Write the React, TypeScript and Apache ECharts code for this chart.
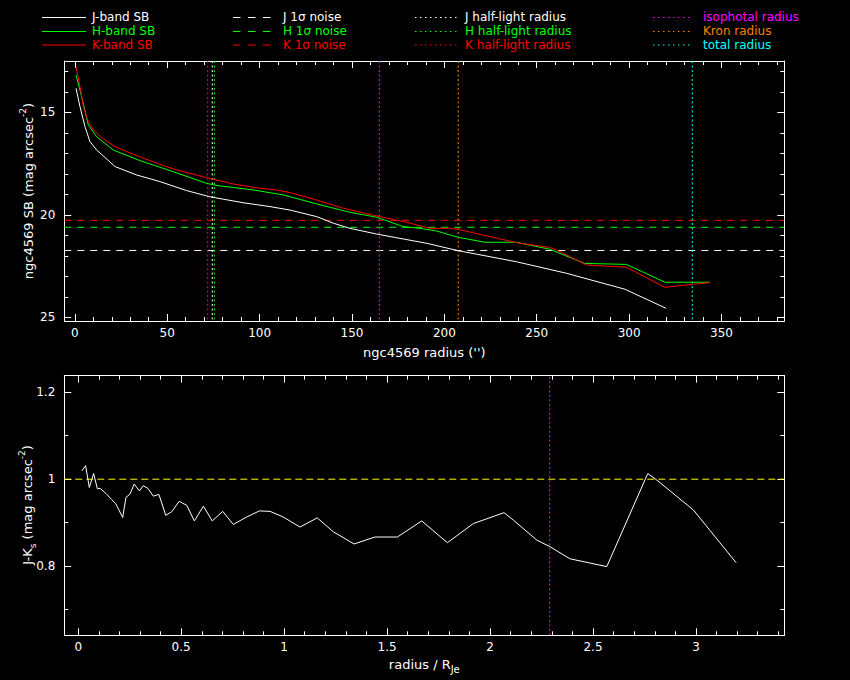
import React, { useEffect, useRef } from "react";
import * as echarts from "echarts";

// ---------- data ----------
const J_RADIUS = [0.65, 2.8, 5.5, 8.2, 11.8, 21.8, 33.5, 46, 60.5, 73, 91, 105.6, 116.5, 130.9, 139.9, 148.9, 163.4, 176, 190.4, 207.5, 239, 266, 297.7, 320];
const J_SB = [13.83, 14.73, 15.7, 16.43, 16.84, 17.65, 18.06, 18.38, 18.82, 19.12, 19.41, 19.6, 19.77, 20.09, 20.41, 20.66, 20.94, 21.15, 21.39, 21.75, 22.29, 22.85, 23.63, 24.56];

const H_RADIUS = [0.65, 3.7, 7.3, 11.8, 20.8, 35.3, 53.3, 71.4, 76.8, 96.6, 112.8, 130.9, 148.9, 163.4, 177.8, 186.8, 195.8, 207.5, 222, 239, 257, 276, 298.6, 319.4, 343.7];
const H_SB = [13.18, 14.24, 15.62, 16.19, 16.84, 17.36, 17.9, 18.47, 18.57, 18.79, 19.03, 19.47, 19.88, 20.12, 20.58, 20.66, 20.79, 21.1, 21.34, 21.34, 21.68, 22.37, 22.42, 23.29, 23.29];

const K_RADIUS = [0.65, 2.8, 4.6, 7.3, 10, 15.4, 21.8, 31.7, 46, 55, 71.4, 85.8, 100.2, 109.2, 116.5, 130.9, 145.3, 163.4, 172.4, 181.4, 192.2, 203, 207.5, 221, 239, 257, 262.6, 277, 298.6, 319.4, 329.3, 343.7];
const K_SB = [12.78, 13.75, 14.73, 15.46, 15.86, 16.3, 16.68, 17.05, 17.54, 17.81, 18.19, 18.5, 18.71, 18.79, 18.92, 19.28, 19.68, 20.06, 20.22, 20.41, 20.66, 20.66, 20.71, 20.99, 21.36, 21.59, 21.8, 22.45, 22.56, 23.54, 23.44, 23.31];

// 1-sigma noise levels (mag arcsec^-2): J, H, K
const NOISE_LEVELS = [21.74, 20.61, 20.27];
// half-light radii ('') : J, H, K
const HALF_LIGHT_RADII = [74.4, 75.5, 71.9];
// isophotal, Kron, total radii ('')
const APERTURE_RADII = [164.8, 207.5, 334.2];

const COLOR_RADIUS = [0.017, 0.036, 0.054, 0.075, 0.093, 0.106, 0.135, 0.163, 0.182, 0.216, 0.232, 0.252, 0.272, 0.297, 0.316, 0.338, 0.365, 0.392, 0.425, 0.454, 0.49, 0.527, 0.564, 0.608, 0.651, 0.702, 0.753, 0.818, 0.88, 0.932, 0.996, 1.077, 1.161, 1.239, 1.34, 1.441, 1.55, 1.668, 1.793, 1.919, 2.068, 2.113, 2.227, 2.29, 2.388, 2.567, 2.766, 2.81, 2.988, 3.195];
const J_MINUS_K = [1.019, 1.031, 0.981, 1.013, 0.978, 0.979, 0.967, 0.953, 0.944, 0.912, 0.958, 0.966, 0.989, 0.973, 0.985, 0.979, 0.961, 0.965, 0.917, 0.925, 0.949, 0.94, 0.904, 0.938, 0.904, 0.926, 0.896, 0.913, 0.927, 0.926, 0.913, 0.89, 0.911, 0.879, 0.851, 0.867, 0.867, 0.904, 0.854, 0.898, 0.923, 0.906, 0.86, 0.845, 0.817, 0.799, 1.013, 0.998, 0.929, 0.808];
const COLOR_REFERENCE = 1.0;
const ISOPHOTAL_RJE = 2.29;

// axis extents
const TOP_X = [-5.7, 384];
const TOP_Y = [12.5, 25.18];
const BOT_X = [-0.0675, 3.429];
const BOT_Y = [0.641, 1.238];

// ---------- styling ----------
const FONT = "DejaVu Sans";
const WHITE = "#ffffff";
const GREEN = "#00ff00";
const RED = "#ff0000";
const MAGENTA = "#ff00ff";
const ORANGE = "#ff8000";
const CYAN = "#00ffff";
const YELLOW = "#ffff00";

const BAND_COLORS = [WHITE, GREEN, RED];
const APERTURE_COLORS = [MAGENTA, ORANGE, CYAN];

function zip(xs: number[], ys: number[]) {
  return xs.map((x, i) => [x, ys[i]]);
}

function axis(
  gridIndex: number,
  ext: number[],
  splitNumber: number,
  minorSplit: number,
  position: string,
  showLabels: boolean,
  inverse = false
) {
  const isX = position === "top" || position === "bottom";
  return {
    type: "value",
    gridIndex,
    min: ext[0],
    max: ext[1],
    splitNumber,
    position,
    inverse,
    axisLine: { show: true, onZero: false, lineStyle: { color: WHITE, width: 1 } },
    axisTick: { show: true, inside: true, length: 7, lineStyle: { color: WHITE, width: 1 } },
    minorTick: { show: true, splitNumber: minorSplit, length: 4, lineStyle: { color: WHITE, width: 1 } },
    splitLine: { show: false },
    minorSplitLine: { show: false },
    axisLabel: {
      show: showLabels,
      color: WHITE,
      fontFamily: FONT,
      fontSize: 12,
      margin: isX ? 6 : 9,
      showMinLabel: false,
      showMaxLabel: false,
    },
  };
}

function lineSeries(data: number[][], color: string, xi: number, yi: number, dash?: number[], z = 2) {
  return {
    type: "line",
    xAxisIndex: xi,
    yAxisIndex: yi,
    data,
    symbol: "none",
    showSymbol: false,
    smooth: false,
    silent: true,
    z,
    lineStyle: { color, width: 1, type: dash ? dash : "solid" },
    itemStyle: { color },
  };
}

const DASH = [7, 6];
const DOT = [2, 2.5];

export default function App() {
  const ref = useRef<HTMLDivElement>(null);

  useEffect(() => {
    const chart = echarts.init(ref.current!, null, { renderer: "svg" });

    const series: any[] = [];
    // noise levels
    NOISE_LEVELS.forEach((v, i) => {
      series.push(lineSeries([[TOP_X[0], v], [TOP_X[1], v]], BAND_COLORS[i], 0, 0, DASH, 1));
    });
    // half-light radii
    HALF_LIGHT_RADII.forEach((v, i) => {
      series.push(lineSeries([[v, TOP_Y[0]], [v, TOP_Y[1]]], BAND_COLORS[i], 0, 0, DOT, 1));
    });
    APERTURE_RADII.forEach((v, i) => {
      series.push(lineSeries([[v, TOP_Y[0]], [v, TOP_Y[1]]], APERTURE_COLORS[i], 0, 0, DOT, 1));
    });
    // profiles
    series.push(lineSeries(zip(J_RADIUS, J_SB), WHITE, 0, 0, undefined, 3));
    series.push(lineSeries(zip(H_RADIUS, H_SB), GREEN, 0, 0, undefined, 3));
    series.push(lineSeries(zip(K_RADIUS, K_SB), RED, 0, 0, undefined, 3));

    // bottom panel
    series.push(lineSeries([[BOT_X[0], COLOR_REFERENCE], [BOT_X[1], COLOR_REFERENCE]], YELLOW, 2, 2, [7, 4], 1));
    series.push(lineSeries([[ISOPHOTAL_RJE, BOT_Y[0]], [ISOPHOTAL_RJE, BOT_Y[1]]], MAGENTA, 2, 2, DOT, 1));
    series.push(lineSeries(zip(COLOR_RADIUS, J_MINUS_K), WHITE, 2, 2, undefined, 3));

    // legend (graphic)
    const rows = [17, 31, 44.5];
    const legendCols = [
      { x1: 42, x2: 86, tx: 92, dash: null as number[] | null, labels: ["J-band SB", "H-band SB", "K-band SB"], colors: BAND_COLORS },
      { x1: 233, x2: 277, tx: 283, dash: [7.5, 7.5], labels: ["J 1σ noise", "H 1σ noise", "K 1σ noise"], colors: BAND_COLORS },
      { x1: 415, x2: 457, tx: 465, dash: [1.5, 3.5], labels: ["J half-light radius", "H half-light radius", "K half-light radius"], colors: BAND_COLORS },
      { x1: 653, x2: 693, tx: 703, dash: [1.5, 3.5], labels: ["isophotal radius", "Kron radius", "total radius"], colors: APERTURE_COLORS },
    ];
    const graphics: any[] = [];
    legendCols.forEach((col) => {
      col.labels.forEach((lab, i) => {
        const y = rows[i];
        graphics.push({
          type: "line",
          silent: true,
          shape: { x1: col.x1, y1: y + 0.5, x2: col.x2, y2: y + 0.5 },
          style: { stroke: col.colors[i], lineWidth: 1, lineDash: col.dash || undefined },
        });
        graphics.push({
          type: "text",
          silent: true,
          x: col.tx,
          y: y,
          style: {
            text: lab,
            fill: col.colors[i],
            font: `12px ${FONT}`,
            lineHeight: 12,
            align: "left",
            verticalAlign: "middle",
          },
        });
      });
    });

    const richBase = { fill: WHITE, fontFamily: FONT, fontSize: 13, lineHeight: 20, verticalAlign: "middle" };
    const richSup = { fill: WHITE, fontFamily: FONT, fontSize: 9, lineHeight: 9, verticalAlign: "top" };
    const richSub = { fill: WHITE, fontFamily: FONT, fontSize: 9, lineHeight: 9, verticalAlign: "bottom" };

    // axis titles
    graphics.push({
      type: "text",
      silent: true,
      x: 424.3,
      y: 352,
      style: { text: "ngc4569 radius ('')", fill: WHITE, font: `13px ${FONT}`, align: "center", verticalAlign: "middle" },
    });
    graphics.push({
      type: "text",
      silent: true,
      x: 424.3,
      y: 664,
      style: {
        text: "{a|radius / R}{b|Je}",
        rich: { a: richBase, b: { ...richSub, fontSize: 10 } },
        align: "center",
        verticalAlign: "middle",
      },
    });
    graphics.push({
      type: "text",
      silent: true,
      x: 28,
      y: 191,
      rotation: Math.PI / 2,
      style: {
        text: "{a|ngc4569 SB (mag arcsec}{s|-2}{a|)}",
        rich: { a: richBase, s: richSup },
        align: "center",
        verticalAlign: "middle",
      },
    });
    graphics.push({
      type: "text",
      silent: true,
      x: 27,
      y: 505,
      rotation: Math.PI / 2,
      style: {
        text: "{a|J-K}{b|s}{a| (mag arcsec}{s|-2}{a|)}",
        rich: { a: richBase, s: richSup, b: richSub },
        align: "center",
        verticalAlign: "middle",
      },
    });

    const option: any = {
      animation: false,
      backgroundColor: "#000000",
      textStyle: { fontFamily: FONT },
      grid: [
        { left: 64.3, top: 61, width: 720, height: 260, containLabel: false, outerBoundsMode: "none" },
        { left: 64.3, top: 375.7, width: 720, height: 259.6, containLabel: false, outerBoundsMode: "none" },
      ],
      xAxis: [
        axis(0, TOP_X, 8, 5, "bottom", true),
        axis(0, TOP_X, 8, 5, "top", false),
        axis(1, BOT_X, 7, 5, "bottom", true),
        axis(1, BOT_X, 7, 5, "top", false),
      ],
      yAxis: [
        axis(0, TOP_Y, 2, 5, "left", true, true),
        axis(0, TOP_Y, 2, 5, "right", false, true),
        axis(1, BOT_Y, 3, 2, "left", true),
        axis(1, BOT_Y, 3, 2, "right", false),
      ],
      series,
      graphic: graphics,
    };

    chart.setOption(option);
    return () => chart.dispose();
  }, []);

  return (
    <div
      ref={ref}
      style={{ position: "absolute", left: 0, top: 0, width: 850, height: 680, background: "#000" }}
    />
  );
}
